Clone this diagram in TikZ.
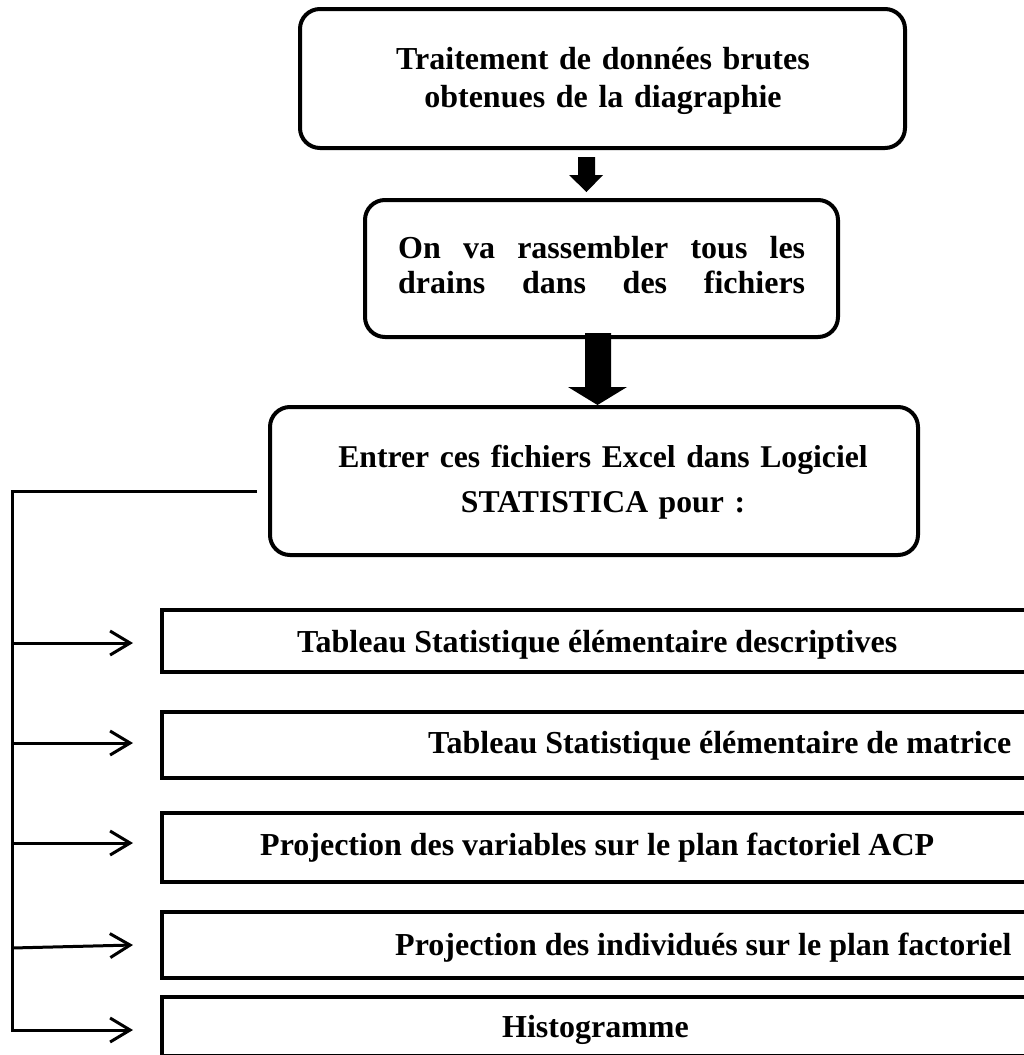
\documentclass[tikz,border=0pt]{standalone}
\usepackage{fontspec}
\setmainfont{Liberation Serif}
\usetikzlibrary{arrows.meta}
\begin{document}
\begin{tikzpicture}[x=1pt,y=-1pt,
  rbox/.style={draw, line width=4pt, rounded corners=20pt, inner sep=0pt},
  sbox/.style={draw, line width=4pt, inner sep=0pt, minimum width=898pt},
  txtA/.style={font=\bfseries\fontsize{32}{38}\selectfont, inner sep=0pt},
  link/.style={line width=3pt},
  harrow/.style={line width=3pt, -{Straight Barb[length=20pt,width=24pt,line width=3pt]}},
  blockarrow/.style={fill=black, draw=none}]
\useasboundingbox (0,0) rectangle (1023,1055);

% rounded boxes
\node[rbox, minimum width=605pt, minimum height=139pt] (b1) at (602.5,78.5) {};
\node[rbox, minimum width=473pt, minimum height=137pt] (b2) at (601.5,268.5) {};
\node[rbox, minimum width=648pt, minimum height=148pt] (b3) at (594,481) {};

\node[txtA, anchor=base, text width=440pt, align=center] (t1) at (603,69)
  {Traitement de données brutes\\obtenues de la diagraphie};
\node[txtA, font=\bfseries\fontsize{32}{35}\selectfont, anchor=base west, text width=407pt, align=left] (t2) at (398,258)
  {\makebox[407pt][s]{On\hfill va\hfill rassembler\hfill tous\hfill les}\\\makebox[407pt][s]{drains\hfill dans\hfill des\hfill fichiers}};
\node[txtA, font=\bfseries\fontsize{31.7}{45}\selectfont, anchor=base, text width=600pt, align=center] (t3) at (603,467)
  {Entrer ces fichiers Excel dans Logiciel\\STATISTICA pour :};

% block arrows
\fill[blockarrow] (578,157) -- (595,157) -- (595,175) -- (603,175) -- (586.5,192) -- (569,175) -- (578,175) -- cycle;
\fill[blockarrow] (585,333) -- (611,333) -- (611,387) -- (627,387) -- (597.5,405) -- (568,387) -- (585,387) -- cycle;

% result boxes
\node[sbox, minimum height=62pt] (r1) at (611,641) {};
\node[sbox, minimum height=66pt] (r2) at (611,745) {};
\node[sbox, minimum height=69pt] (r3) at (611,847.5) {};
\node[sbox, minimum height=66pt] (r4) at (611,945) {};
\node[sbox, minimum height=59pt] (r5) at (611,1026.5) {};

\node[txtA, anchor=base west] (s1) at (297,652) {Tableau Statistique élémentaire descriptives};
\node[txtA, anchor=base west] (s2) at (428,753) {Tableau Statistique élémentaire de matrice};
\node[txtA, anchor=base west] (s3) at (260,855) {Projection des variables sur le plan factoriel ACP};
\node[txtA, anchor=base west] (s4) at (395,955) {Projection des individués sur le plan factoriel};
\node[txtA, anchor=base west] (s5) at (502,1037) {Histogramme};

% connectors
\coordinate (j0) at (257,491);
\coordinate (c0) at (12,491);
\coordinate (c1) at (12,643);
\coordinate (c2) at (12,743);
\coordinate (c3) at (12,843);
\coordinate (c4) at (12,948);
\coordinate (c5) at (12,1030);
\coordinate (a1) at (133,643);
\coordinate (a2) at (133,743);
\coordinate (a3) at (133,843);
\coordinate (a4) at (133,945);
\coordinate (a5) at (133,1030);

\draw[link, harrow] (j0) -- (c0) -- (c5) -- (a5);
\draw[harrow] (c1) -- (a1);
\draw[harrow] (c2) -- (a2);
\draw[harrow] (c3) -- (a3);
\draw[harrow] (c4) -- (a4);
\end{tikzpicture}
\end{document}
